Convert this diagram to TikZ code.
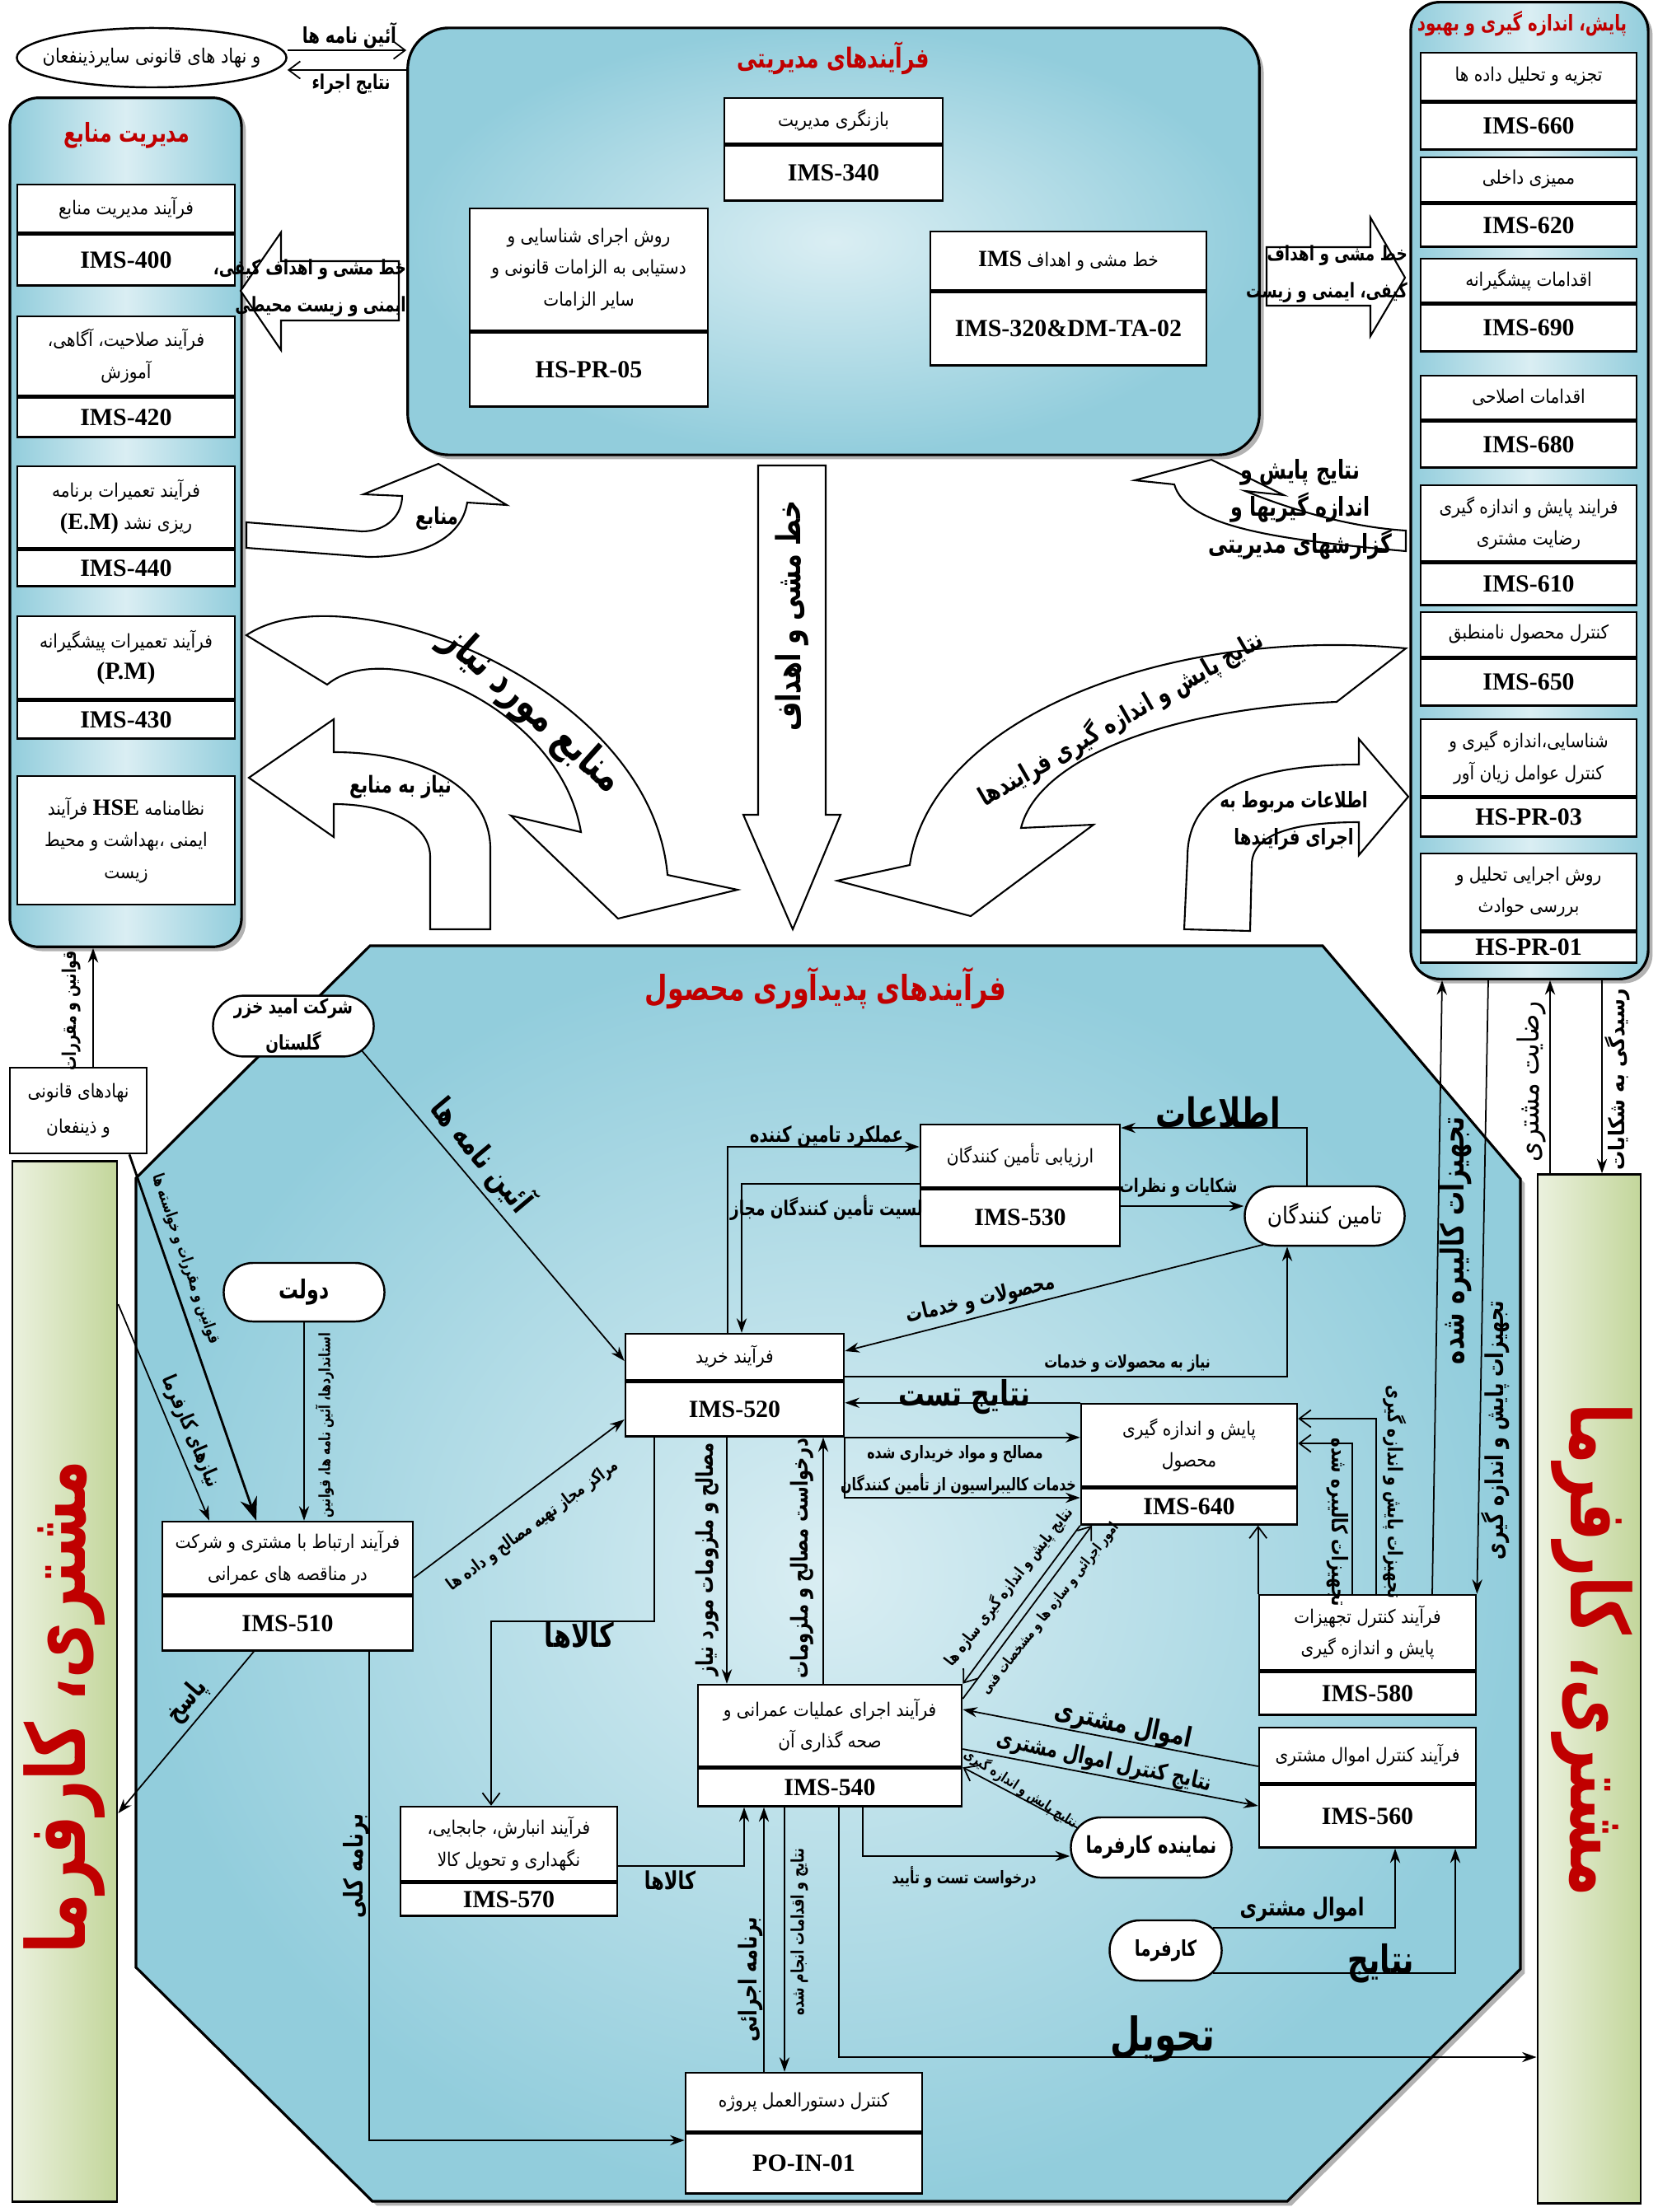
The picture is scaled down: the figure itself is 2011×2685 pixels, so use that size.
\documentclass[tikz,border=0pt]{standalone}
\usepackage{fontspec}
\setmainfont{Liberation Serif}
\newfontfamily\farsi[Script=Arabic, FakeStretch=0.88]{DejaVu Sans}
\newfontfamily\farsic[Script=Arabic, FakeStretch=0.75]{DejaVu Sans}
\usetikzlibrary{positioning, arrows.meta, shapes.misc, shapes.geometric, shadows}
\TeXXeTstate=1
\newcommand{\fa}[1]{{\farsi\beginR #1\endR}}
\newcommand{\fb}[1]{{\farsic\bfseries\beginR #1\endR}}
\newcommand{\la}[1]{\beginL{\rmfamily\bfseries\fontsize{8}{11}\selectfont #1}\endL}
\newcommand{\fs}[1]{\fontsize{#1}{12.8}\selectfont\bfseries}

\definecolor{cblue}{RGB}{146,205,220}
\definecolor{clight}{RGB}{218,238,243}
\definecolor{cgreen}{RGB}{195,214,155}
\definecolor{cgreenl}{RGB}{235,241,222}
\definecolor{dred}{RGB}{192,0,0}

\tikzset{
  panel/.style={draw, line width=0.9pt, rounded corners=0.35cm, left color=cblue, right color=cblue, middle color=clight, drop shadow={shadow xshift=1.5pt, shadow yshift=-1.5pt, fill=black!60}},
  gbar/.style={draw, line width=0.8pt, left color=cgreenl, right color=cgreen},
  pbox/.style={draw, fill=white, line width=0.7pt, align=center, inner sep=1pt, font=\fontsize{6.5}{11}\selectfont},
  cbox/.style={draw, fill=white, line width=0.7pt, align=center, inner sep=1pt, font=\fontsize{8.5}{10}\selectfont\bfseries},
  pill/.style={draw, fill=white, line width=0.7pt, rounded rectangle, align=center, inner sep=1pt, font=\fontsize{7}{12}\selectfont},
  blk/.style={draw, fill=white, line width=0.6pt},
  lbl/.style={inner sep=1pt, align=center, font=\fs{6.5}},
  ttl/.style={inner sep=1pt, text=dred, font=\fs{9}},
  flow/.style={-{Stealth[length=5pt, width=3.5pt]}, line width=0.5pt},
  vflow/.style={-{Straight Barb[length=4pt, width=6pt]}, line width=0.5pt},
}

\begin{document}
\begin{tikzpicture}[x=0.01cm, y=-0.01cm]
\useasboundingbox (0,0) rectangle (2011,2685);

% panels
\node[panel, minimum width=2.81cm, minimum height=10.30cm] (res) at (152.5,634) {};
\node[panel, minimum width=2.88cm, minimum height=11.85cm] (mon) at (1856,595.5) {};
\node[panel, rounded corners=0.5cm, inner color=clight, outer color=cblue, minimum width=10.33cm, minimum height=5.18cm] (mgmt) at (1011.5,293) {};
\node[gbar, minimum width=1.27cm, minimum height=12.62cm] (gL) at (78.5,2041) {};
\node[gbar, minimum width=1.25cm, minimum height=12.48cm] (gR) at (1928.5,2050) {};
\path[draw, line width=0.9pt, inner color=clight, outer color=cblue, drop shadow={shadow xshift=1.5pt, shadow yshift=-1.5pt, fill=black!60}]
  (449,1148) -- (1605,1148) -- (1845,1431) -- (1845,2390) -- (1562,2672) -- (452,2672) -- (165,2388) -- (165,1430) -- cycle;

% titles
\node[ttl] (ttlRes) at (154,164) {\fb{مدیریت منابع}};
\node[ttl, font=\fs{9.5}] (ttlMgmt) at (1011,71) {\fb{فرآیندهای مدیریتی}};
\node[ttl, font=\fs{7.5}] (ttlMon) at (1847,29) {\fb{پایش، اندازه گیری و بهبود}};
\node[ttl, font=\fs{12}] (ttlProd) at (1002,1199) {\fb{فرآیندهای پدیدآوری محصول}};

\node[draw, fill=white, ellipse, line width=0.7pt, minimum width=3.27cm, minimum height=0.72cm, inner xsep=-5pt, inner ysep=0pt, font=\fontsize{6.8}{9}\selectfont] (ell) at (184,70) {\fa{و نهاد های قانونی سایرذینفعان}};

% resource management
\node[pbox, minimum width=2.64cm, minimum height=0.58cm] (t400) at (153,253) {\fa{فرآیند مدیریت منابع}};
\node[cbox, minimum width=2.64cm, minimum height=0.62cm, below=0pt of t400] (c400) {IMS-400};
\node[pbox, minimum width=2.64cm, minimum height=0.96cm] (t420) at (153,432) {\fa{فرآیند صلاحیت، آگاهی،}\\\fa{آموزش}};
\node[cbox, minimum width=2.64cm, minimum height=0.48cm, below=0pt of t420] (c420) {IMS-420};
\node[pbox, minimum width=2.64cm, minimum height=0.99cm] (t440) at (153,615.5) {\fa{فرآیند تعمیرات برنامه}\\\fa{ریزی نشد \la{(E.M)}}};
\node[cbox, minimum width=2.64cm, minimum height=0.44cm, below=0pt of t440] (c440) {IMS-440};
\node[pbox, minimum width=2.64cm, minimum height=1.00cm] (t430) at (153,798) {\fa{فرآیند تعمیرات پیشگیرانه}\\{\bfseries\fontsize{8.5}{10}\selectfont (P.M)}};
\node[cbox, minimum width=2.64cm, minimum height=0.46cm, below=0pt of t430] (c430) {IMS-430};
\node[pbox, minimum width=2.64cm, minimum height=1.56cm] (tHSE) at (153,1020) {\fa{نظامنامه \la{HSE} فرآیند}\\\fa{ایمنی ،بهداشت و محیط}\\\fa{زیست}};

% management processes
\node[pbox, minimum width=2.65cm, minimum height=0.55cm] (t340) at (1011.5,146.5) {\fa{بازنگری مدیریت}};
\node[cbox, minimum width=2.65cm, minimum height=0.67cm, below=0pt of t340] (c340) {IMS-340};
\node[pbox, minimum width=2.89cm, minimum height=1.48cm] (t305) at (714.5,327) {\fa{روش اجرای شناسایی و}\\\fa{دستیابی به الزامات قانونی و}\\\fa{سایر الزامات}};
\node[cbox, minimum width=2.89cm, minimum height=0.90cm, below=0pt of t305] (c305) {HS-PR-05};
\node[pbox, minimum width=3.35cm, minimum height=0.71cm] (t320) at (1296.5,316.5) {\fa{خط مشی و اهداف \la{IMS}}};
\node[cbox, minimum width=3.35cm, minimum height=0.89cm, below=0pt of t320] (c320) {IMS-320\&DM-TA-02};

% monitoring, measurement and improvement
\node[pbox, minimum width=2.62cm, minimum height=0.58cm] (t660) at (1855,93) {\fa{تجزیه و تحلیل داده ها}};
\node[cbox, minimum width=2.62cm, minimum height=0.57cm, below=0pt of t660] (c660) {IMS-660};
\node[pbox, minimum width=2.62cm, minimum height=0.54cm] (t620) at (1855,218) {\fa{ممیزی داخلی}};
\node[cbox, minimum width=2.62cm, minimum height=0.52cm, below=0pt of t620] (c620) {IMS-620};
\node[pbox, minimum width=2.62cm, minimum height=0.53cm] (t690) at (1855,340.5) {\fa{اقدامات پیشگیرانه}};
\node[cbox, minimum width=2.62cm, minimum height=0.57cm, below=0pt of t690] (c690) {IMS-690};
\node[pbox, minimum width=2.62cm, minimum height=0.53cm] (t680) at (1855,482.5) {\fa{اقدامات اصلاحی}};
\node[cbox, minimum width=2.62cm, minimum height=0.56cm, below=0pt of t680] (c680) {IMS-680};
\node[pbox, minimum width=2.62cm, minimum height=0.92cm] (t610) at (1855,635) {\fa{فرایند پایش و اندازه گیری}\\\fa{رضایت مشتری}};
\node[cbox, minimum width=2.62cm, minimum height=0.51cm, below=0pt of t610] (c610) {IMS-610};
\node[pbox, minimum width=2.62cm, minimum height=0.54cm] (t650) at (1855,770) {\fa{کنترل محصول نامنطبق}};
\node[cbox, minimum width=2.62cm, minimum height=0.57cm, below=0pt of t650] (c650) {IMS-650};
\node[pbox, minimum width=2.62cm, minimum height=0.93cm] (tPR03) at (1855,919.5) {\fa{شناسایی،اندازه گیری و}\\\fa{کنترل عوامل زیان آور}};
\node[cbox, minimum width=2.62cm, minimum height=0.47cm, below=0pt of tPR03] (cPR03) {HS-PR-03};
\node[pbox, minimum width=2.62cm, minimum height=0.93cm] (tPR01) at (1855,1082.5) {\fa{روش اجرایی تحلیل و}\\\fa{بررسی حوادث}};
\node[cbox, minimum width=2.62cm, minimum height=0.37cm, below=0pt of tPR01] (cPR01) {HS-PR-01};

% block arrows
\draw[blk] (484,317) -- (341,317) -- (341,282) -- (292,353) -- (341,425) -- (341,389) -- (484,389) -- cycle;
\node[lbl, font=\fs{7}, align=right, anchor=east] (lPolL) at (497,350) {\fb{خط مشی و اهداف کیفی،}\\\fb{ایمنی و زیست محیطی}};
\draw[blk] (1537,300) -- (1663,300) -- (1663,264) -- (1705,337) -- (1663,408) -- (1663,371) -- (1537,371) -- cycle;
\node[lbl, font=\fs{7}, align=right, anchor=east] (lPolR) at (1712,333) {\fb{خط مشی و اهداف}\\\fb{کیفی، ایمنی و زیست}};
\draw[blk] (532,563) -- (615,613) -- (567,610) .. controls (560,655) and (510,676) .. (447,676) -- (299,665) -- (299,634) -- (439,645) .. controls (470,645) and (488,625) .. (488,602) -- (441,600) -- cycle;
\node[lbl, font=\fs{8}] (lRes) at (530,629) {\fb{منابع}};
\draw[blk] (299,771) .. controls (420,690) and (790,830) .. (810,1062) -- (895,1080) -- (750,1115) -- (620,990) -- (705,1010) .. controls (680,860) and (470,770) .. (397,831) -- cycle;
\node[lbl, font=\fs{14.5}, rotate=-42] (lNeed) at (645,862) {\fb{منابع مورد نیاز}};
\draw[blk] (920,565) -- (1002,565) -- (1002,989) -- (1020,989) -- (962,1128) -- (902,989) -- (920,989) -- cycle;
\node[lbl, font=\fs{11.5}, rotate=90] (lPolD) at (961,748) {\fb{خط مشی و اهداف}};
\draw[blk] (1706,787) -- (1622,852) .. controls (1420,860) and (1260,920) .. (1239,1005) -- (1327,1001) -- (1178,1112) -- (1016,1069) -- (1104,1050) .. controls (1130,870) and (1420,760) .. (1706,787) -- cycle;
\node[lbl, font=\fs{9}, rotate=30] (lResP) at (1360,872) {\fb{نتایج پایش و اندازه گیری فرایندها}};
\draw[blk] (302,944) -- (405,873) -- (405,913) .. controls (520,913) and (595,960) .. (595,1030) -- (595,1128) -- (522,1128) -- (522,1040) .. controls (522,1000) and (470,976) .. (405,976) -- (405,1016) -- cycle;
\node[lbl, font=\fs{8}] (lNeedR) at (486,955) {\fb{نیاز به منابع}};
\draw[blk] (1709,967) -- (1649,1038) -- (1649,998) .. controls (1570,998) and (1519,1012) .. (1519,1050) -- (1517,1130) -- (1437,1128) -- (1441,1040) .. controls (1441,960) and (1520,928) .. (1649,928) -- (1649,897) -- cycle;
\node[lbl, font=\fs{7.5}] (lInfo) at (1570,996) {\fb{اطلاعات مربوط به}\\\fb{اجرای فرایندها}};
\draw[blk] (1470,558) -- (1558,601) -- (1511,596) .. controls (1570,620) and (1640,640) .. (1706,644) -- (1706,669) .. controls (1550,655) and (1440,640) .. (1425,588) -- (1377,583) -- cycle;
\node[lbl, font=\fs{9}] (lRep) at (1578,618) {\fb{نتایج پایش و}\\\fb{اندازه گیریها و}\\\fb{گزارشهای مدیریتی}};

% product realization
\node[pill, minimum width=2.02cm, minimum height=0.73cm, font=\fontsize{7}{12.5}\selectfont\bfseries] (omid) at (356,1245.5) {\fb{شرکت امید خزر}\\\fb{گلستان}};
\node[draw, fill=white, line width=0.7pt, minimum width=1.66cm, minimum height=1.04cm, align=center, font=\fontsize{6.5}{12}\selectfont] (law) at (95,1348) {\fa{نهادهای قانونی}\\\fa{و ذینفعان}};
\node[pill, minimum width=2.02cm, minimum height=0.71cm, font=\fs{9}] (dolat) at (369,1568.5) {\fb{دولت}};
\node[pill, minimum width=2.01cm, minimum height=0.72cm, font=\fontsize{8}{10}\selectfont] (supp) at (1607.5,1476) {\fa{تامین کنندگان}};
\node[pill, minimum width=2.02cm, minimum height=0.73cm, font=\fs{8}] (rep) at (1397,2242.5) {\fb{نماینده کارفرما}};
\node[pill, minimum width=1.43cm, minimum height=0.73cm, font=\fs{7.5}] (emp) at (1414.5,2367.5) {\fb{کارفرما}};

\node[pbox, minimum width=3.04cm, minimum height=0.88cm] (t510) at (349,1891) {\fa{فرآیند ارتباط با مشتری و شرکت}\\\fa{در مناقصه های عمرانی}};
\node[cbox, minimum width=3.04cm, minimum height=0.66cm, below=0pt of t510] (c510) {IMS-510};
\node[pbox, minimum width=2.42cm, minimum height=0.76cm] (t530) at (1238,1403) {\fa{ارزیابی تأمین کنندگان}};
\node[cbox, minimum width=2.42cm, minimum height=0.69cm, below=0pt of t530] (c530) {IMS-530};
\node[pbox, minimum width=2.65cm, minimum height=0.56cm] (t520) at (891.5,1647) {\fa{فرآیند خرید}};
\node[cbox, minimum width=2.65cm, minimum height=0.66cm, below=0pt of t520] (c520) {IMS-520};
\node[pbox, minimum width=2.62cm, minimum height=1.00cm] (t640) at (1443,1754) {\fa{پایش و اندازه گیری}\\\fa{محصول}};
\node[cbox, minimum width=2.62cm, minimum height=0.44cm, below=0pt of t640] (c640) {IMS-640};
\node[pbox, minimum width=2.63cm, minimum height=0.91cm] (t580) at (1659.5,1981.5) {\fa{فرآیند کنترل تجهیزات}\\\fa{پایش و اندازه گیری}};
\node[cbox, minimum width=2.63cm, minimum height=0.52cm, below=0pt of t580] (c580) {IMS-580};
\node[pbox, minimum width=2.63cm, minimum height=0.67cm] (t560) at (1659.5,2130.5) {\fa{فرآیند کنترل اموال مشتری}};
\node[cbox, minimum width=2.63cm, minimum height=0.76cm, below=0pt of t560] (c560) {IMS-560};
\node[pbox, minimum width=3.20cm, minimum height=0.99cm] (t540) at (1007,2094.5) {\fa{فرآیند اجرای عملیات عمرانی و}\\\fa{صحه گذاری آن}};
\node[cbox, minimum width=3.20cm, minimum height=0.46cm, below=0pt of t540] (c540) {IMS-540};
\node[pbox, minimum width=2.63cm, minimum height=0.90cm] (t570) at (617.5,2238) {\fa{فرآیند انبارش، جابجایی،}\\\fa{نگهداری و تحویل کالا}};
\node[cbox, minimum width=2.63cm, minimum height=0.40cm, below=0pt of t570] (c570) {IMS-570};
\node[pbox, minimum width=2.87cm, minimum height=0.71cm] (tPO) at (975.5,2551.5) {\fa{کنترل دستورالعمل پروژه}};
\node[cbox, minimum width=2.87cm, minimum height=0.73cm, below=0pt of tPO] (cPO) {PO-IN-01};

% connectors
\draw[vflow] (ell.east |- 0,61) -- (mgmt.west |- 0,61);
\draw[vflow] (mgmt.west |- 0,85) -- (ell.east |- 0,85);
\draw[flow, line width=0.8pt] (113,0 |- law.north) -- (113,0 |- res.south);
\draw[-{Stealth[length=8pt, width=6pt]}, line width=0.8pt] (157,0 |- law.south) -- (311,0 |- t510.north);
\draw[flow] (gL.east |- 0,1583) -- (254,0 |- t510.north);
\draw[flow] (dolat.south) -- (dolat.south |- t510.north);
\draw[flow] (omid.-20) -- (t520.west |- 0,1652);
\draw[flow] (t510.east |- 0,1915) -- (c520.west |- 0,1723);
\draw[flow] (308,0 |- c510.south) -- (gL.east |- 0,2201);
\draw[flow] (448,0 |- c510.south) |- (cPO.west |- 0,2598);
\draw[flow] (883,0 |- t520.north) |- (t530.west |- 0,1392);
\draw[flow] (t530.west |- 0,1437) -| (900,0 |- t520.north);
\draw[flow] (1586,0 |- supp.north) |- (t530.east |- 0,1369);
\draw[flow] (c530.east |- 0,1464) -- (supp.west |- 0,1464);
\draw[flow] (supp.205) -- (t520.east |- 0,1640);
\draw[flow] (t520.east |- 0,1671) -| (1562,0 |- supp.south);
\draw[flow] (t640.north west) -- (c520.east |- t640.north);
\draw[flow] (c520.south east) -- (t640.west |- c520.south);
\draw[flow] (c520.south east) |- (c640.west |- 0,1818);
\draw[vflow] (1670,0 |- t580.north) |- (t640.east |- 0,1722);
\draw[vflow] (1641,0 |- t580.north) |- (t640.east |- 0,1752);
\draw[vflow] (t580.north west) -- (t580.north west |- c640.south);
\draw[flow] (1738,0 |- t580.north) -- (1750,0 |- mon.south);
\draw[flow] (1806,0 |- mon.south) -- (t580.north east);
\draw[flow] (1881,0 |- gR.north) -- (1881,0 |- mon.south);
\draw[flow] (1944,0 |- mon.south) -- (1944,0 |- gR.north);
\draw[flow] (882,0 |- c520.south) -- (882,0 |- t540.north);
\draw[flow] (999,0 |- t540.north) -- (999,0 |- c520.south);
\draw[vflow] (794,0 |- c520.south) -- (794,1968) -| (596,0 |- t570.north);
\draw[flow] (t570.east |- 0,2265) -| (903,0 |- c540.south);
\draw[flow] (927,0 |- tPO.north) -- (927,0 |- c540.south);
\draw[flow] (952,0 |- c540.south) -- (952,0 |- tPO.north);
\draw[flow] (1018,0 |- c540.south) |- (gR.west |- 0,2497);
\draw[flow] (1047,0 |- c540.south) |- (rep.west |- 0,2253);
\draw[vflow] (rep.165) -- (c540.north east);
\draw[flow] (t560.west |- 0,2144) -- (t540.east |- 0,2075);
\draw[flow] (t540.east |- 0,2123) -- (c560.west |- 0,2192);
\draw[flow] (emp.26) -| (1693,0 |- c560.south);
\draw[flow] (emp.-26) -| (1766,0 |- c560.south);
\draw[vflow] (c640.south west) -- (t540.north east);
\draw[vflow] (t540.east |- 0,2062) -- (1325,0 |- c640.south);

% labels
\node[lbl, font=\fs{7.5}] (lAinT) at (424,43) {\fb{آئین نامه ها}};
\node[lbl, font=\fs{7}] (lNatT) at (426,102) {\fb{نتایج اجراء}};
\node[lbl, rotate=90] (lQM) at (87,1227) {\fb{قوانین و مقررات}};
\node[lbl, font=\fs{5.5}, rotate=-71] (lQMK) at (225,1528) {\fb{قوانین و مقررات و خواسته ها}};
\node[lbl, font=\fs{7}, rotate=-67] (lNK) at (231,1738) {\fb{نیازهای کارفرما}};
\node[lbl, font=\fs{5.3}, rotate=90] (lStd) at (394,1730) {\fb{استانداردها، آئین نامه ها، قوانین}};
\node[lbl, font=\fs{11}, rotate=-50] (lAin) at (585,1402) {\fb{آئین نامه ها}};
\node[lbl, font=\fs{6}, rotate=36.5] (lMar) at (647,1852) {\fb{مراکز مجاز تهیه مصالح و داده ها}};
\node[lbl, font=\fs{9}, rotate=49] (lPas) at (227,2065) {\fb{پاسخ}};
\node[lbl, font=\fs{9}, rotate=90] (lBK) at (432,2265) {\fb{برنامه کلی}};
\node[lbl, font=\fs{7.5}] (lAml) at (1003,1380) {\fb{عملکرد تامین کننده}};
\node[lbl, font=\fs{7}] (lList) at (1003,1466) {\fb{لسیت تأمین کنندگان مجاز}};
\node[lbl, font=\fs{14}] (lEtt) at (1478,1350) {\fb{اطلاعات}};
\node[lbl] (lShk) at (1430,1442) {\fb{شکایات و نظرات}};
\node[lbl, font=\fs{7.5}, rotate=13] (lMahs) at (1190,1578) {\fb{محصولات و خدمات}};
\node[lbl, font=\fs{6}] (lNiaz) at (1368,1655) {\fb{نیاز به محصولات و خدمات}};
\node[lbl, font=\fs{12}] (lTest) at (1170,1696) {\fb{نتایج تست}};
\node[lbl, font=\fs{6}] (lMasa) at (1159,1765) {\fb{مصالح و مواد خریداری شده}};
\node[lbl, font=\fs{6}] (lKhad) at (1163,1802) {\fb{خدمات کالیبراسیون از تأمین کنندگان}};
\node[lbl, font=\fs{7.5}, rotate=-90] (lTk1) at (1623,1848) {\fb{تجهیزات کالیبره شده}};
\node[lbl, font=\fs{7}, rotate=-90] (lTp1) at (1693,1811) {\fb{تجهیزات پایش و اندازه گیری}};
\node[lbl, font=\fs{11}, rotate=90] (lTk2) at (1767,1506) {\fb{تجهیزات کالیبره شده}};
\node[lbl, font=\fs{8.5}, rotate=90] (lTp2) at (1815,1736) {\fb{تجهیزات پایش و اندازه گیری}};
\node[lbl, font=\fontsize{10}{12}\selectfont, rotate=90] (lRez) at (1858,1313) {\fa{رضایت مشتری}};
\node[lbl, font=\fontsize{7.5}{12}\selectfont\bfseries, rotate=90] (lRsd) at (1963,1310) {\fa{رسیدگی به شکایات}};
\node[lbl, font=\fs{8}, rotate=90] (lMal) at (858,1893) {\fb{مصالح و ملزومات مورد نیاز}};
\node[lbl, font=\fs{8}, rotate=90] (lDar) at (973,1892) {\fb{درخواست مصالح و ملزومات}};
\node[lbl, font=\fs{11.5}] (lKal1) at (703,1985) {\fb{کالاها}};
\node[lbl, font=\fs{8.5}] (lKal2) at (813,2283) {\fb{کالاها}};
\node[lbl, font=\fs{8.5}, rotate=90] (lBE) at (911,2403) {\fb{برنامه اجرائی}};
\node[lbl, font=\fs{6}, rotate=90] (lNE) at (970,2345) {\fb{نتایج و اقدامات انجام شده}};
\node[lbl, font=\fs{16}] (lTah) at (1411,2475) {\fb{تحویل}};
\node[lbl, font=\fs{6}] (lDT) at (1170,2279) {\fb{درخواست تست و تأیید}};
\node[lbl, font=\fs{5}, rotate=-33] (lNP) at (1239,2171) {\fb{نتایج پایش و اندازه گیری}};
\node[lbl, font=\fs{9.5}, rotate=-12] (lAm1) at (1363,2095) {\fb{اموال مشتری}};
\node[lbl, font=\fs{8}, rotate=-12] (lNkm) at (1340,2139) {\fb{نتایج کنترل اموال مشتری}};
\node[lbl, font=\fs{8.5}] (lAm2) at (1580,2318) {\fb{اموال مشتری}};
\node[lbl, font=\fs{13.5}] (lNat) at (1676,2383) {\fb{نتایج}};
\node[lbl, font=\fs{5.5}, rotate=52] (lSz) at (1224,1926) {\fb{نتایج پایش و اندازه گیری سازه ها}};
\node[lbl, font=\fs{5}, rotate=52] (lOm) at (1275,1953) {\fb{امور اجرائی و سازه ها و مشخصات فنی}};

\node[text=dred, font=\fs{28}, rotate=90] (lCustL) at (78,2072) {\fb{مشتری، کارفرما}};
\node[text=dred, font=\fs{28}, rotate=-90] (lCustR) at (1932,2003) {\fb{مشتری، کارفرما}};
\end{tikzpicture}
\end{document}
